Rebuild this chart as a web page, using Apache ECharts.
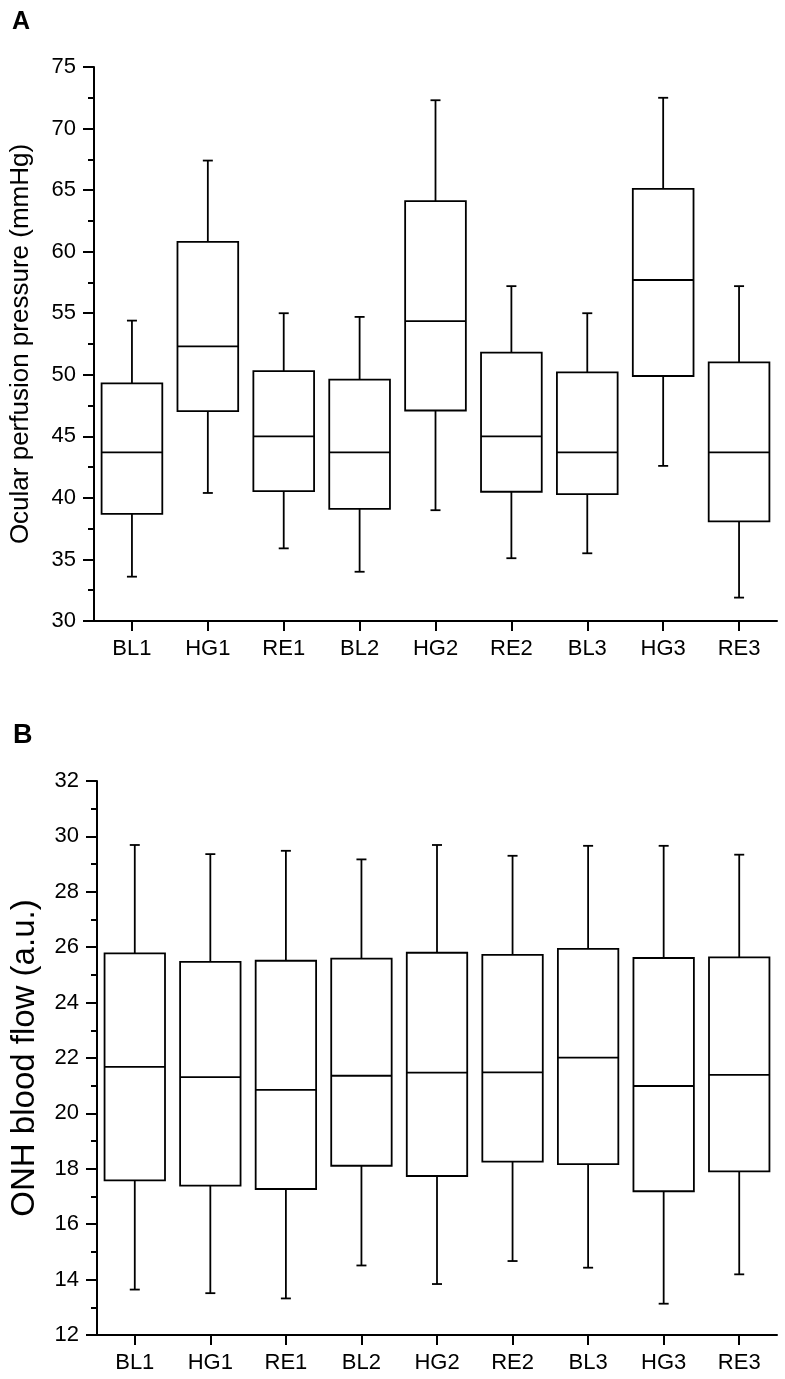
<!DOCTYPE html>
<html>
<head>
<meta charset="utf-8">
<script src="https://cdn.jsdelivr.net/npm/echarts@6/dist/echarts.min.js"></script>
<style>
html,body{margin:0;padding:0;background:#fff;}
#chart{width:785px;height:1379px;}
</style>
</head>
<body>
<div id="chart"></div>
<script>
const categories = ['BL1','HG1','RE1','BL2','HG2','RE2','BL3','HG3','RE3'];

// Panel A: ocular perfusion pressure (mmHg)
const oppMin    = [33.6, 40.4, 35.9, 34.0, 39.0, 35.1, 35.5, 42.6, 31.9];
const oppQ1     = [38.7, 47.05, 40.55, 39.1, 47.1, 40.5, 40.3, 49.9, 38.1];
const oppMedian = [43.7, 52.3, 45.0, 43.7, 54.35, 45.0, 43.7, 57.7, 43.7];
const oppQ3     = [49.3, 60.8, 50.3, 49.6, 64.1, 51.8, 50.2, 65.1, 51.0];
const oppMax    = [54.4, 67.4, 55.0, 54.7, 72.3, 57.2, 55.0, 72.5, 57.2];

// Panel B: ONH blood flow (a.u.)
const flowMin    = [13.64, 13.51, 13.32, 14.51, 13.84, 14.67, 14.43, 13.13, 14.19];
const flowQ1     = [17.58, 17.39, 17.27, 18.11, 17.74, 18.26, 18.17, 17.19, 17.91];
const flowMedian = [21.68, 21.31, 20.85, 21.36, 21.47, 21.48, 22.01, 20.99, 21.39];
const flowQ3     = [25.78, 25.47, 25.51, 25.59, 25.80, 25.72, 25.94, 25.61, 25.63];
const flowMax    = [29.69, 29.36, 29.48, 29.17, 29.69, 29.30, 29.66, 29.66, 29.34];

const yTicksA = {min: 30, max: 75, interval: 5};
const yTicksB = {min: 12, max: 32, interval: 2};

const FONT = 'Liberation Sans, Arial, sans-serif';

function toRows(mn, q1, md, q3, mx) {
  return categories.map((c, i) => [i, mn[i], q1[i], md[i], q3[i], mx[i]]);
}

function renderBox(params, api) {
  const x = api.value(0);
  const lo = api.coord([x, api.value(1)]);
  const q1 = api.coord([x, api.value(2)]);
  const md = api.coord([x, api.value(3)]);
  const q3 = api.coord([x, api.value(4)]);
  const hi = api.coord([x, api.value(5)]);
  const bw = api.size([1, 0])[0] * 0.8;
  const cw = 10;
  const cx = lo[0];
  const ls = {stroke: '#000', lineWidth: 1.8};
  return {
    type: 'group',
    children: [
      {type: 'line', shape: {x1: cx, y1: q3[1], x2: cx, y2: hi[1]}, style: ls},
      {type: 'line', shape: {x1: cx, y1: q1[1], x2: cx, y2: lo[1]}, style: ls},
      {type: 'line', shape: {x1: cx - cw/2, y1: hi[1], x2: cx + cw/2, y2: hi[1]}, style: ls},
      {type: 'line', shape: {x1: cx - cw/2, y1: lo[1], x2: cx + cw/2, y2: lo[1]}, style: ls},
      {type: 'rect', shape: {x: cx - bw/2, y: q3[1], width: bw, height: q1[1] - q3[1]},
        style: {stroke: '#000', fill: '#fff', lineWidth: 1.8}},
      {type: 'line', shape: {x1: cx - bw/2, y1: md[1], x2: cx + bw/2, y2: md[1]}, style: ls}
    ]
  };
}

function xAxisDef(gi) {
  return {
    type: 'category', gridIndex: gi, data: categories, boundaryGap: true,
    axisLine: {lineStyle: {color: '#000', width: 2}},
    axisTick: {show: true, alignWithLabel: true, length: 10, lineStyle: {color: '#000', width: 2}},
    axisLabel: {color: '#000', fontSize: 22, fontFamily: FONT, margin: 17},
    splitLine: {show: false}
  };
}

function yAxisDef(gi, t, name, gap, nameSize) {
  return {
    type: 'value', gridIndex: gi, min: t.min, max: t.max, interval: t.interval,
    name: name, nameLocation: 'middle', nameRotate: 90, nameGap: gap,
    nameTextStyle: {color: '#000', fontSize: nameSize, fontFamily: FONT},
    axisLine: {show: true, lineStyle: {color: '#000', width: 2}},
    axisTick: {show: true, inside: false, length: 11, lineStyle: {color: '#000', width: 2}},
    minorTick: {show: true, splitNumber: 2, length: 6, lineStyle: {color: '#000', width: 2}},
    axisLabel: {color: '#000', fontSize: 22, fontFamily: FONT, margin: 18},
    splitLine: {show: false},
    minorSplitLine: {show: false}
  };
}

const chart = echarts.init(document.getElementById('chart'), null, {renderer: 'canvas'});
chart.setOption({
  backgroundColor: '#fff',
  animation: false,
  title: [
    {text: 'A', left: 7, top: 5, textStyle: {fontSize: 25, fontWeight: 'bold', color: '#000', fontFamily: FONT}},
    {text: 'B', left: 8, top: 717, textStyle: {fontSize: 27, fontWeight: 'bold', color: '#000', fontFamily: FONT}}
  ],
  grid: [
    {left: 89, top: 67, width: 688, height: 554, containLabel: false},
    {left: 89, top: 781, width: 688, height: 554, containLabel: false}
  ],
  xAxis: [xAxisDef(0), xAxisDef(1)],
  yAxis: [
    yAxisDef(0, yTicksA, 'Ocular perfusion pressure (mmHg)', 60, 26),
    yAxisDef(1, yTicksB, 'ONH blood flow (a.u.)', 56, 33)
  ],
  series: [
    {type: 'custom', xAxisIndex: 0, yAxisIndex: 0, renderItem: renderBox,
      encode: {x: 0, y: [1, 2, 3, 4, 5]}, data: toRows(oppMin, oppQ1, oppMedian, oppQ3, oppMax)},
    {type: 'custom', xAxisIndex: 1, yAxisIndex: 1, renderItem: renderBox,
      encode: {x: 0, y: [1, 2, 3, 4, 5]}, data: toRows(flowMin, flowQ1, flowMedian, flowQ3, flowMax)}
  ]
});
</script>
</body>
</html>
